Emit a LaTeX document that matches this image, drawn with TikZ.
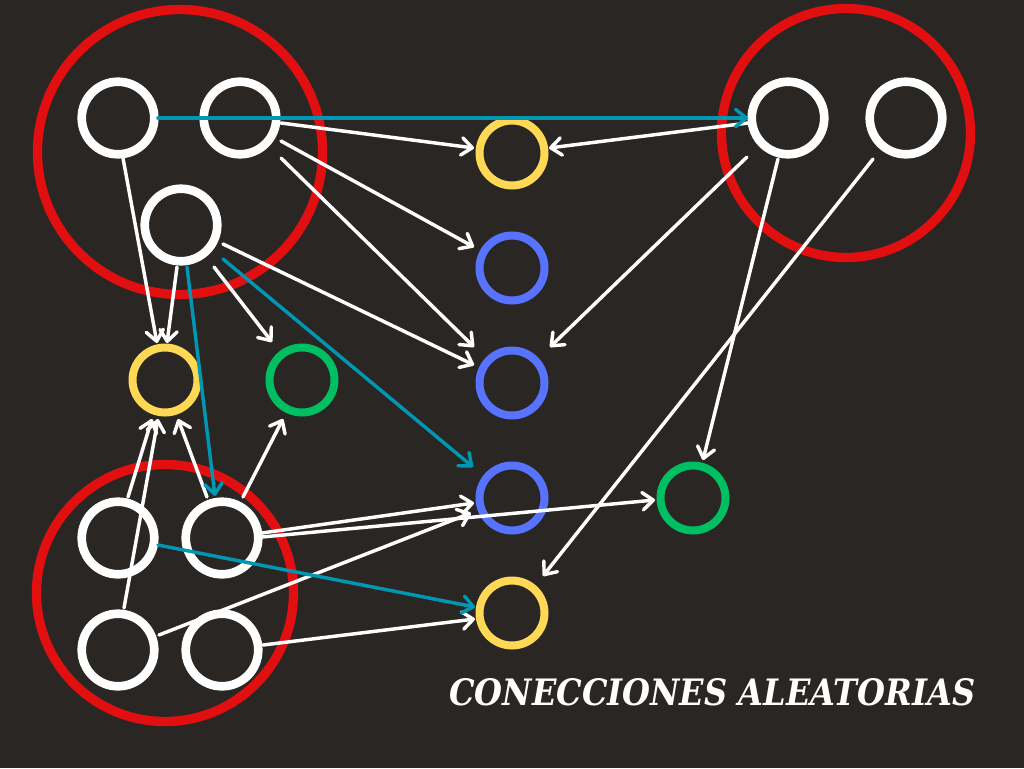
\documentclass[tikz,border=0pt]{standalone}
\usepackage{graphicx}
\usepackage{fontspec}
\newfontfamily\titlefont{DejaVu Serif}
\usetikzlibrary{arrows.meta}
\definecolor{bgdark}{RGB}{41,38,36}
\definecolor{grpred}{RGB}{225,15,15}
\definecolor{ndyellow}{RGB}{255,217,85}
\definecolor{ndblue}{RGB}{87,115,255}
\definecolor{ndgreen}{RGB}{0,191,99}
\definecolor{lnteal}{RGB}{0,151,178}
\begin{document}
\begin{tikzpicture}[x=0.75pt,y=-0.75pt,
  wnode/.style={circle,draw=white,line width=6.5pt,minimum size=54.4pt,inner sep=0pt},
  cnode/.style={circle,line width=6pt,minimum size=48.75pt,inner sep=0pt},
  grp/.style={circle,draw=grpred,line width=7pt,inner sep=0pt},
  link/.style={draw=white,line width=2.6pt,line cap=round,
    -{Straight Barb[length=8pt,width=13pt,line cap=round,line join=round]}},
  tlink/.style={link,draw=lnteal}]
\fill[bgdark] (0,0) rectangle (1024,768);
\useasboundingbox (0,0) rectangle (1024,768);
% groups
\node[grp,minimum size=213.75pt] (gA) at (180,152) {};
\node[grp,minimum size=186.75pt] (gR) at (846,133) {};
\node[grp,minimum size=192.75pt] (gB) at (165,593) {};
% white nodes
\node[wnode] (A1) at (118,118) {};
\node[wnode] (A2) at (240,118) {};
\node[wnode] (A3) at (181,225) {};
\node[wnode] (R1) at (788,118) {};
\node[wnode] (R2) at (906,118) {};
\node[wnode] (B1) at (118,538) {};
\node[wnode] (B2) at (222,538) {};
\node[wnode] (B3) at (118,650) {};
\node[wnode] (B4) at (222,650) {};
% coloured nodes
\node[cnode,draw=ndyellow] (Y1) at (512,153) {};
\node[cnode,draw=ndblue] (L1) at (512,268) {};
\node[cnode,draw=ndblue] (L2) at (512,383) {};
\node[cnode,draw=ndblue] (L3) at (512,498) {};
\node[cnode,draw=ndyellow] (Y2) at (512,613) {};
\node[cnode,draw=ndyellow] (Y3) at (165,380) {};
\node[cnode,draw=ndgreen] (G1) at (302,380) {};
\node[cnode,draw=ndgreen] (G2) at (693,498) {};
% connectors
\draw[link] ([shift={(41,5)}]A2.center) -- ([shift={(-38,-5)}]Y1.center);
\draw[link] ([shift={(41,23)}]A2.center) -- ([shift={(-38,-21)}]L1.center);
\draw[link] ([shift={(41,40)}]A2.center) -- ([shift={(-38,-36)}]L2.center);
\draw[link] ([shift={(42,19)}]A3.center) -- ([shift={(-38,-18)}]L2.center);
\draw[link] ([shift={(33,42)}]A3.center) -- ([shift={(-30,-38)}]G1.center);
\draw[link] ([shift={(-4,42)}]A3.center) -- ([shift={(2,-37)}]Y3.center);
\draw[link] ([shift={(5,40)}]A1.center) -- ([shift={(-8,-37)}]Y3.center);
\draw[link] ([shift={(-40,5)}]R1.center) -- ([shift={(37,-5)}]Y1.center);
\draw[link] ([shift={(-41,39)}]R1.center) -- ([shift={(38,-36)}]L2.center);
\draw[link] ([shift={(-10,41)}]R1.center) -- ([shift={(10,-38)}]G2.center);
\draw[link] ([shift={(-33,41)}]R2.center) -- ([shift={(31,-37)}]Y2.center);
\draw[link] ([shift={(10,-41)}]B1.center) -- ([shift={(-13,39)}]Y3.center);
\draw[link] ([shift={(6,-42)}]B3.center) -- ([shift={(-7,39)}]Y3.center);
\draw[link] ([shift={(-15,-41)}]B2.center) -- ([shift={(13,39)}]Y3.center);
\draw[link] ([shift={(21,-41)}]B2.center) -- ([shift={(-19,39)}]G1.center);
\draw[link] ([shift={(40,-5)}]B2.center) -- ([shift={(-38,5)}]L3.center);
\draw[link] ([shift={(40,-1)}]B2.center) -- ([shift={(-38,2)}]G2.center);
\draw[link] ([shift={(41,-15)}]B3.center) -- ([shift={(-41,15)}]L3.center);
\draw[link] ([shift={(41,-5)}]B4.center) -- ([shift={(-37,6)}]Y2.center);
\draw[tlink] ([shift={(40,0)}]A1.center) -- ([shift={(-40,0)}]R1.center);
\draw[tlink] ([shift={(6,42)}]A3.center) -- ([shift={(-7,-42)}]B2.center);
\draw[tlink] ([shift={(42,34)}]A3.center) -- ([shift={(-39,-31)}]L3.center);
\draw[tlink] ([shift={(40,7)}]B1.center) -- ([shift={(-37,-6)}]Y2.center);
% title
\node[anchor=base west,text=white,inner sep=0pt] (title) at (449,705)
  {\resizebox{394.5pt}{20.25pt}{\titlefont\bfseries\itshape CONECCIONES ALEATORIAS}};
\end{tikzpicture}
\end{document}
